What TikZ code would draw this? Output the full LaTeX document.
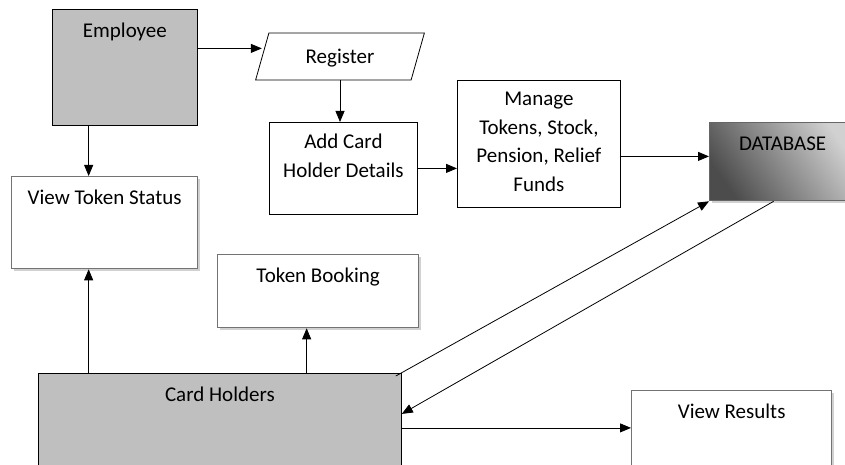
\documentclass[tikz,border=0pt]{standalone}
\usepackage{fontspec}
\setmainfont{Carlito}
\usetikzlibrary{arrows.meta,shapes.geometric,shadows}

\definecolor{boxgray}{HTML}{BFBFBF}

\begin{document}
\begin{tikzpicture}[
  x=1pt, y=-1pt,
  font=\fontsize{21}{28.5}\selectfont,
  >={Triangle[length=11pt, width=9pt]},
  box/.style={draw, anchor=north west, inner sep=0pt, align=center, line width=0.8pt},
  grbox/.style={box, fill=boxgray},
  shbox/.style={box, draw=black!55, line width=1.3pt, fill=white,
    drop shadow={shadow xshift=2pt, shadow yshift=-2pt, fill=black!30, opacity=0.6}},
  arrow/.style={->, line width=0.8pt}
]
  \useasboundingbox (0,0) rectangle (845,465);

  % top row
  \node[grbox, minimum width=145pt, text height=28pt, text depth=88pt] (emp) at (52,9) {Employee};
  \node[draw, line width=0.8pt, trapezium, trapezium left angle=72, trapezium right angle=108,
    trapezium stretches=true, minimum width=170pt, minimum height=47pt,
    text height=15pt, text depth=0pt] (reg) at (340,56.5) {Register};
  \node[box, minimum width=148pt, text height=55pt, text depth=37pt] (add) at (269,122) {Add Card\\Holder Details};
  \node[box, minimum width=163pt, text height=111pt, text depth=16pt] (man) at (457,80) {Manage\\Tokens, Stock,\\Pension, Relief\\Funds};
  \node[shbox, draw=black!60, minimum width=146pt, text height=28pt, text depth=50pt,
    left color=black!70, right color=black!18, shading angle=125] (db) at (709,122) {DATABASE};

  % lower boxes
  \node[shbox, minimum width=186pt, text height=28pt, text depth=64pt] (vts) at (11,176) {View Token Status};
  \node[shbox, minimum width=201pt, text height=28pt, text depth=45pt] (tb) at (217,254) {Token Booking};
  \node[grbox, minimum width=363pt, text height=28pt, text depth=69pt] (ch) at (38,373) {Card Holders};
  \node[shbox, minimum width=200pt, text height=28pt, text depth=52pt] (vr) at (631,390) {View Results};

  % connectors
  \draw[arrow] ([yshift=19pt]emp.east) -- ([yshift=19pt]emp.east -| reg.west);
  \draw[arrow] (reg.south) -- (reg.south |- add.north);
  \draw[arrow] (add.east) -- (add.east -| man.west);
  \draw[arrow] ([yshift=-12.5pt]man.east) -- ([yshift=-12.5pt]man.east -| db.west);
  \draw[arrow] ([xshift=-16pt]vts.north |- emp.south) -- ([xshift=-16pt]vts.north);
  \draw[arrow] ([xshift=-16pt]vts.south |- ch.north) -- ([xshift=-16pt]vts.south);
  \draw[arrow] ([xshift=-11.5pt]tb.south |- ch.north) -- ([xshift=-11.5pt]tb.south);
  \draw[arrow] ([xshift=-6pt, yshift=-3pt]ch.north east) -- (db.south west);
  \draw[arrow] ([xshift=-9pt]db.south) -- ([yshift=8pt]ch.east);
  \draw[arrow] ([yshift=-6pt]ch.east) -- ([yshift=-6pt]ch.east -| vr.west);
\end{tikzpicture}
\end{document}
